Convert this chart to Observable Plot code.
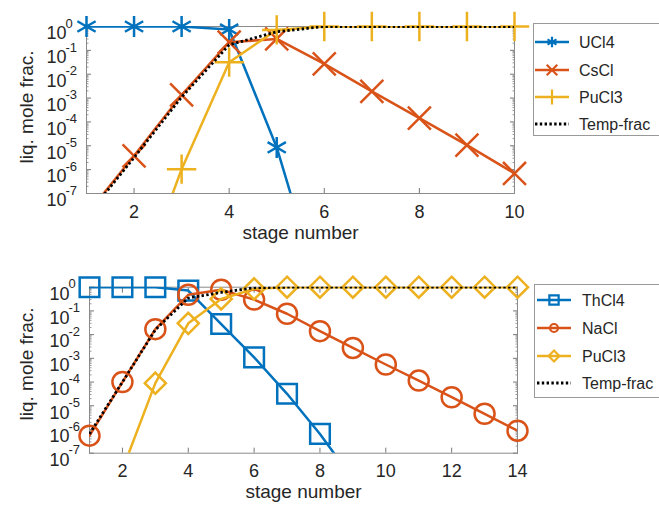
<!DOCTYPE html>
<html><head><meta charset="utf-8">
<script src="https://cdn.jsdelivr.net/npm/d3@7"></script>
<script src="https://cdn.jsdelivr.net/npm/@observablehq/plot@0.6"></script>
<style>
body{margin:0;background:#fff;font-family:"Liberation Sans",Arial,sans-serif;}
#wrap{position:relative;width:659px;height:506px;overflow:hidden;background:#fff;}
.abs{position:absolute;left:0;}
</style></head><body><div id="wrap"></div>
<script>
// ---------- data ----------
const stagesTop = [1, 2, 3, 4, 5, 6, 7, 8, 9, 10];
const uclTop    = [1, 1, 1, 0.75, 8.5e-6, 2e-12, null, null, null, null];
const csclTop   = [1.3e-8, 3.8e-6, 1.35e-3, 0.22, 0.30, 0.027, 1.9e-3, 1.45e-4, 1.07e-5, 6.9e-7];
const puclTop   = [null, 4e-12, 1.05e-6, 0.032, 0.72, 1, 1, 1, 1, 1];
const tempTop   = [1.1e-8, 3.2e-6, 1.1e-3, 0.17, 0.6, 1, 1, 1, 1, 1];

const stagesBot = [1, 2, 3, 4, 5, 6, 7, 8, 9, 10, 11, 12, 13, 14];
const thclBot   = [1, 1, 1, 0.72, 0.028, 1.1e-3, 3.2e-5, 6.5e-7, 8e-9, null, null, null, null, null];
const naclBot   = [5.5e-7, 1e-4, 0.017, 0.48, 0.78, 0.3, 0.076, 0.014, 2.75e-3, 5.5e-4, 1.15e-4, 2.3e-5, 4.6e-6, 8.9e-7];
const puclBot   = [null, 2e-8, 9e-5, 0.03, 0.32, 0.85, 1, 1, 1, 1, 1, 1, 1, 1];
const tempBot   = [6.5e-7, 1e-4, 0.016, 0.35, 0.6, 0.95, 1, 1, 1, 1, 1, 1, 1, 1];

const yTicks = [1, 1e-1, 1e-2, 1e-3, 1e-4, 1e-5, 1e-6, 1e-7];
const yExp   = ["0", "-1", "-2", "-3", "-4", "-5", "-6", "-7"];
const xTicksTop = [2, 4, 6, 8, 10];
const xTicksBot = [2, 4, 6, 8, 10, 12, 14];
const xLabel = "stage number";
const yLabel = "liq. mole frac.";
const yMinor = [];
for (let e = -7; e < 0; e++) for (let m = 2; m <= 9; m++) yMinor.push(m * Math.pow(10, e));

const BLUE = "#0072BD", ORANGE = "#D95319", YELLOW = "#EDB120";
const FONT = "Liberation Sans, Arial, sans-serif";
const DASH = "2.4,2.4";

const topSeries = [
  {name: "UCl4",  vals: uclTop,  color: BLUE,   symbol: "asterisk", r: 10, dsym: d3.symbolAsterisk},
  {name: "CsCl",  vals: csclTop, color: ORANGE, symbol: "times",    r: 10.5, dsym: d3.symbolTimes},
  {name: "PuCl3", vals: puclTop, color: YELLOW, symbol: "plus",     r: 9.5, dsym: d3.symbolPlus},
  {name: "Temp-frac", vals: tempTop, color: "#000", dotted: true}
];
const botSeries = [
  {name: "ThCl4", vals: thclBot, color: BLUE,   symbol: "square2",  r: 12.5, dsym: d3.symbolSquare2},
  {name: "NaCl",  vals: naclBot, color: ORANGE, symbol: "circle",   r: 10, dsym: d3.symbolCircle},
  {name: "PuCl3", vals: puclBot, color: YELLOW, symbol: "diamond2", r: 9.5, dsym: d3.symbolDiamond2},
  {name: "Temp-frac", vals: tempBot, color: "#000", dotted: true}
];

function panel({stages, series, xDomain, xTicks, height, mt, mb, ml, width, mr}) {
  const marks = [];
  marks.push(Plot.axisX({anchor: "bottom", ticks: xTicks, tickSize: -5, tickFormat: () => "", label: null, stroke: "#777"}));
  marks.push(Plot.axisX({anchor: "top", ticks: xTicks, tickSize: -5, tickFormat: () => "", label: null, stroke: "#777"}));
  marks.push(Plot.axisY({anchor: "left", ticks: yTicks, tickSize: -5, tickFormat: () => "", label: null, stroke: "#777"}));
  marks.push(Plot.axisY({anchor: "right", ticks: yTicks, tickSize: -5, tickFormat: () => "", label: null, stroke: "#777"}));
  marks.push(Plot.axisY({anchor: "left", ticks: yMinor, tickSize: -2.5, tickFormat: () => "", label: null, stroke: "#999"}));
  marks.push(Plot.axisY({anchor: "right", ticks: yMinor, tickSize: -2.5, tickFormat: () => "", label: null, stroke: "#999"}));
  marks.push(Plot.frame({stroke: "#8a8a8a", strokeWidth: 1}));
  marks.push(Plot.text(xTicks, {x: d => d, text: d => String(d), frameAnchor: "bottom", dy: 24, fontSize: 18, fill: "#262626", fontFamily: FONT}));
  marks.push(Plot.text(yTicks, {y: d => d, text: () => "10", frameAnchor: "left", textAnchor: "end", dx: -20, dy: 7, fontSize: 18, fill: "#262626", fontFamily: FONT}));
  marks.push(Plot.text(yTicks, {y: d => d, text: (d, i) => yExp[i], frameAnchor: "left", textAnchor: "start", dx: -21, dy: -3, fontSize: 13, fill: "#262626", fontFamily: FONT}));
  marks.push(Plot.text([xLabel], {frameAnchor: "bottom", dy: 45, text: d => d, fontSize: 19, fill: "#262626", fontFamily: FONT}));
  const dotted = [];
  for (const s of series) {
    const data = stages.map((st, i) => ({stage: st, v: s.vals[i]})).filter(d => d.v != null);
    if (s.dotted) {
      dotted.push(Plot.line(data, {x: "stage", y: "v", stroke: "#000", strokeWidth: 2.8, strokeDasharray: DASH, strokeLinecap: "butt", clip: true}));
    } else {
      marks.push(Plot.line(data, {x: "stage", y: "v", stroke: s.color, strokeWidth: 2.5, clip: true}));
      marks.push(Plot.dot(data.filter(d => d.v >= 1e-7), {x: "stage", y: "v", symbol: s.symbol, r: s.r, stroke: s.color, strokeWidth: 2.5, fill: "none"}));
    }
  }
  marks.push(...dotted);
  return Plot.plot({
    width, height, marginTop: mt, marginBottom: mb, marginLeft: ml, marginRight: mr,
    style: {background: "transparent", fontFamily: FONT, overflow: "visible"},
    x: {domain: xDomain},
    y: {type: "log", domain: [1e-7, 1]},
    marks
  });
}

function overlay(series, {x0, y0, w, h, lineX1, lineX2, ys, textX, labelX, labelY}) {
  const svg = d3.create("svg").attr("width", 659).attr("height", 506)
    .style("position", "absolute").style("left", "0px").style("top", "0px").style("pointer-events", "none");
  svg.append("text").attr("transform", `translate(${labelX},${labelY}) rotate(-90)`)
    .attr("text-anchor", "middle").attr("dy", "0.35em")
    .attr("font-family", FONT).attr("font-size", 19).attr("fill", "#262626").text(yLabel);
  svg.append("rect").attr("x", x0 + 0.5).attr("y", y0 + 0.5).attr("width", w).attr("height", h)
    .attr("fill", "#fff").attr("stroke", "#999").attr("stroke-width", 1);
  series.forEach((s, i) => {
    const y = ys[i];
    const g = svg.append("g");
    if (s.dotted) {
      g.append("line").attr("x1", lineX1).attr("x2", lineX2).attr("y1", y).attr("y2", y)
        .attr("stroke", "#000").attr("stroke-width", 2.8).attr("stroke-dasharray", DASH);
    } else {
      g.append("line").attr("x1", lineX1).attr("x2", lineX2).attr("y1", y).attr("y2", y)
        .attr("stroke", s.color).attr("stroke-width", 2.5);
      const size = s.dsym === d3.symbolCircle ? 50 : (s.dsym === d3.symbolSquare2 ? 110 : 75);
      g.append("path").attr("d", d3.symbol(s.dsym, size)())
        .attr("transform", `translate(${(lineX1 + lineX2) / 2},${y})`)
        .attr("fill", "none").attr("stroke", s.color).attr("stroke-width", 2.2);
    }
    g.append("text").attr("x", textX).attr("y", y).attr("dy", "0.35em")
      .attr("font-family", FONT).attr("font-size", 16).attr("fill", "#262626").text(s.name);
  });
  return svg.node();
}

const wrap = document.getElementById("wrap");
const p1 = panel({stages: stagesTop, series: topSeries, xDomain: [1, 10], xTicks: xTicksTop,
  width: 530, height: 250, mt: 26, mb: 57, ml: 86, mr: 16});
p1.classList.add("abs"); p1.style.top = "0px";
wrap.appendChild(p1);
const p2 = panel({stages: stagesBot, series: botSeries, xDomain: [1, 14], xTicks: xTicksBot,
  width: 530, height: 256, mt: 36.7, mb: 53.3, ml: 89, mr: 13});
p2.classList.add("abs"); p2.style.top = "250px";
wrap.appendChild(p2);

wrap.appendChild(overlay(topSeries, {x0: 533, y0: 23, w: 140, h: 112, lineX1: 535, lineX2: 569, ys: [42, 70, 97, 124], textX: 579, labelX: 26, labelY: 107}));
wrap.appendChild(overlay(botSeries, {x0: 534, y0: 284, w: 140, h: 113, lineX1: 537, lineX2: 571, ys: [300, 328, 356, 383], textX: 582, labelX: 26, labelY: 364}));
</script>
</body></html>
